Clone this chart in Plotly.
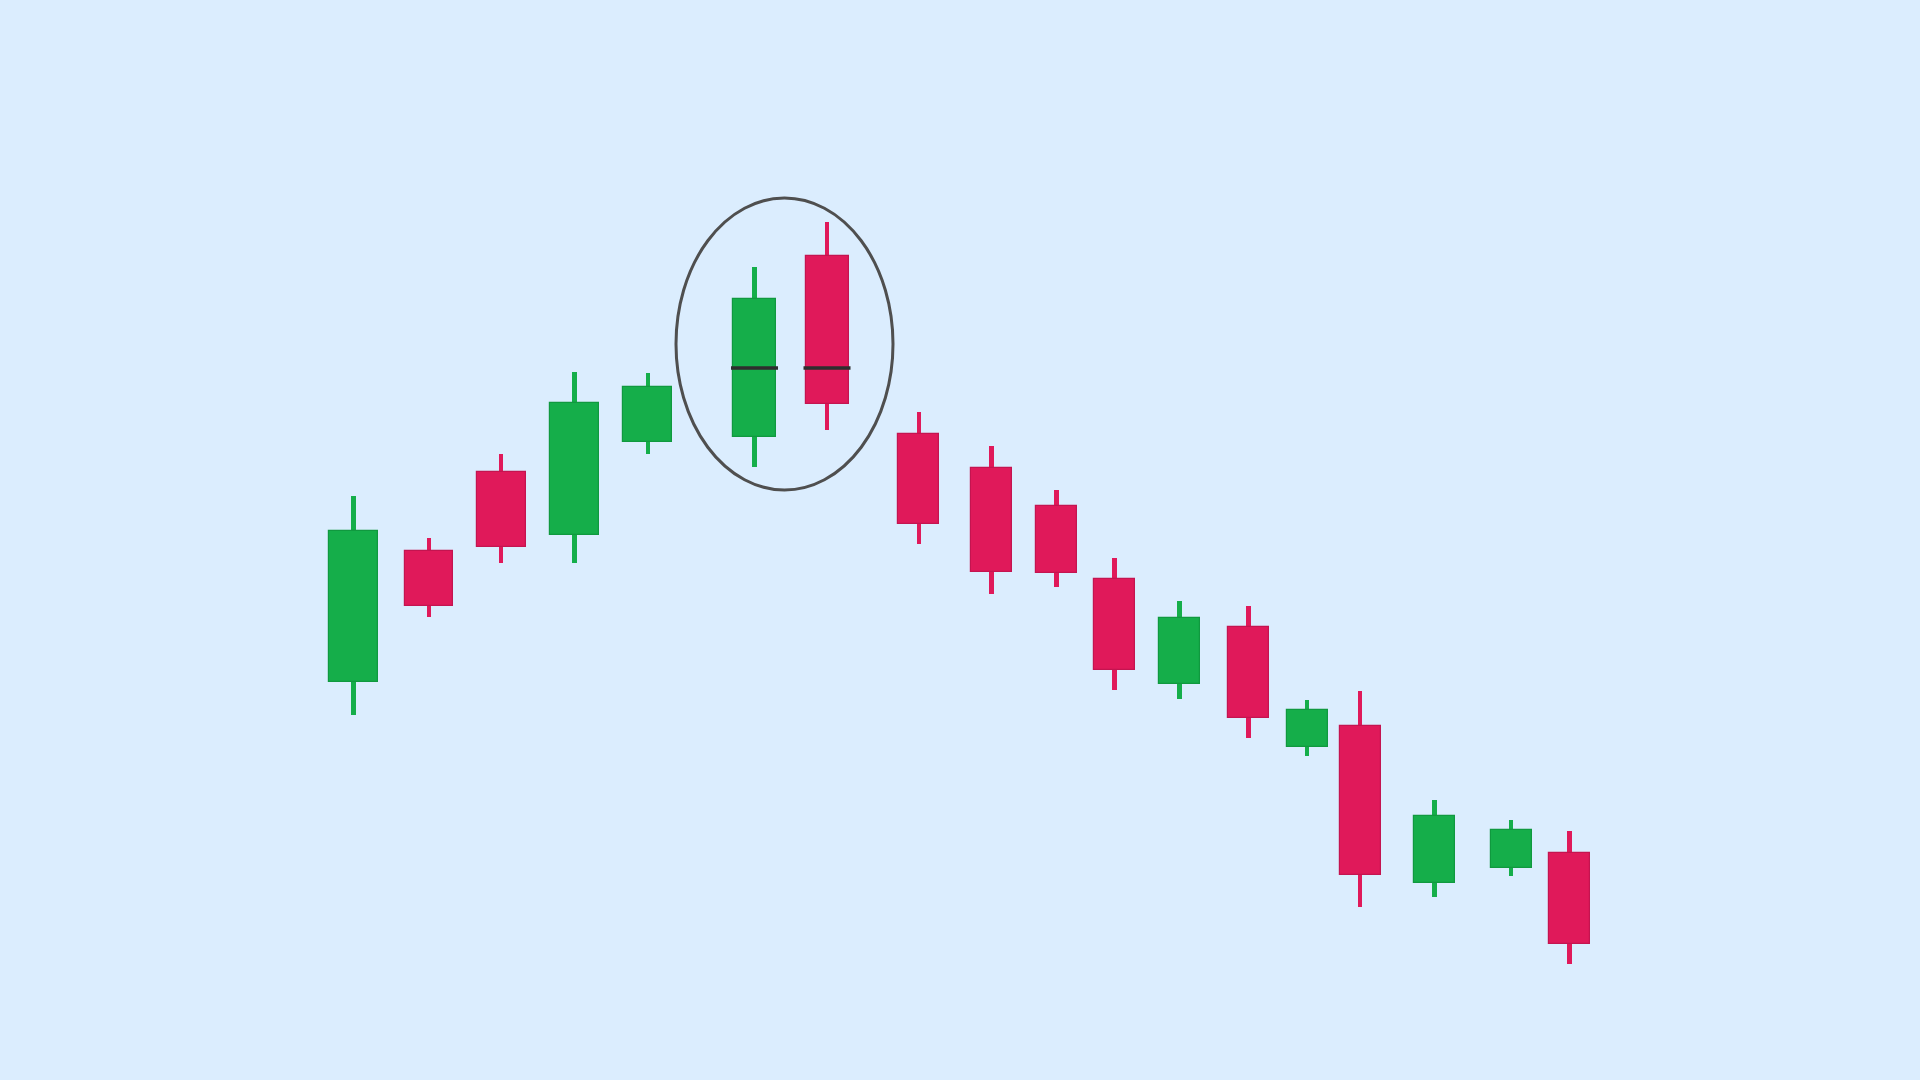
import plotly.graph_objects as go

# ---- data (price units; x = session position) ----
x_pos = [353.7, 429, 501, 574.7, 647.8, 754.5, 827, 918.8, 991.3, 1056.3,
         1114.3, 1179.7, 1248.3, 1307, 1360, 1434.5, 1511, 1569.7]
open_ = [398, 529, 608, 545, 638, 643, 824, 646, 612, 574, 501, 396, 453, 333, 354, 197, 212, 227]
high = [584, 542, 626, 708, 707, 813, 858, 668, 634, 590, 522, 479, 474, 380, 389, 280, 260, 249]
low = [365, 463, 517, 517, 626, 613, 650, 536, 486, 493, 390, 381, 342, 324, 173, 183, 204, 116]
close = [549, 474, 533, 677, 693, 781, 676, 556, 508, 507, 410, 462, 362, 370, 205, 264, 250, 136]

# ---- styles ----
BODY_W = [49, 48, 49, 49, 49, 43, 43, 41, 41, 41, 41, 41, 41, 41, 41, 41, 41, 41]
WICK_W = 4.5
GREEN, GREEN_EDGE = "#15AE4A", "#10993F"
RED, RED_EDGE = "#E0195A", "#C41450"
BG = "#DBEDFE"

inc = [c >= o for o, c in zip(open_, close)]
fill = [GREEN if u else RED for u in inc]
edge = [GREEN_EDGE if u else RED_EDGE for u in inc]

fig = go.Figure()
# wicks
fig.add_trace(go.Bar(
    x=x_pos, base=low, y=[h - l for h, l in zip(high, low)],
    width=[WICK_W] * len(x_pos), marker=dict(color=fill, line=dict(width=0)),
    hoverinfo="skip", showlegend=False))
# bodies
fig.add_trace(go.Bar(
    x=x_pos, base=[min(o, c) for o, c in zip(open_, close)],
    y=[abs(c - o) for o, c in zip(open_, close)],
    width=BODY_W, marker=dict(color=fill, line=dict(color=edge, width=1.2)),
    showlegend=False,
    customdata=list(zip(open_, high, low, close)),
    hovertemplate="O %{customdata[0]}<br>H %{customdata[1]}<br>L %{customdata[2]}<br>C %{customdata[3]}<extra></extra>"))

# highlight pattern: candles 6 and 7
i, j = 5, 6
mid = (open_[i] + close[i]) / 2
for k in (i, j):
    fig.add_shape(type="line", x0=x_pos[k] - BODY_W[k] / 2 - 2, x1=x_pos[k] + BODY_W[k] / 2 + 2,
                  y0=mid, y1=mid, line=dict(color="#2E2E2E", width=3.5))
fig.add_shape(type="circle", x0=x_pos[i] - 78.5, x1=x_pos[j] + 66,
              y0=min(low[i], low[j]) - 23, y1=max(high[i], high[j]) + 24,
              line=dict(color="#4F4F4F", width=3))

fig.update_layout(
    width=1920, height=1080, margin=dict(l=0, r=0, t=0, b=0),
    paper_bgcolor=BG, plot_bgcolor=BG, barmode="overlay", bargap=0,
    xaxis=dict(range=[0, 1920], visible=False, fixedrange=True),
    yaxis=dict(range=[0, 1080], visible=False, fixedrange=True),
)
fig.write_html(
    "out.html",
    config={"displayModeBar": False},
    post_script=("document.body.style.margin='0';document.body.style.padding='0';"
                 "document.body.style.overflow='hidden';"
                 "document.body.style.background='" + BG + "';"),
)
